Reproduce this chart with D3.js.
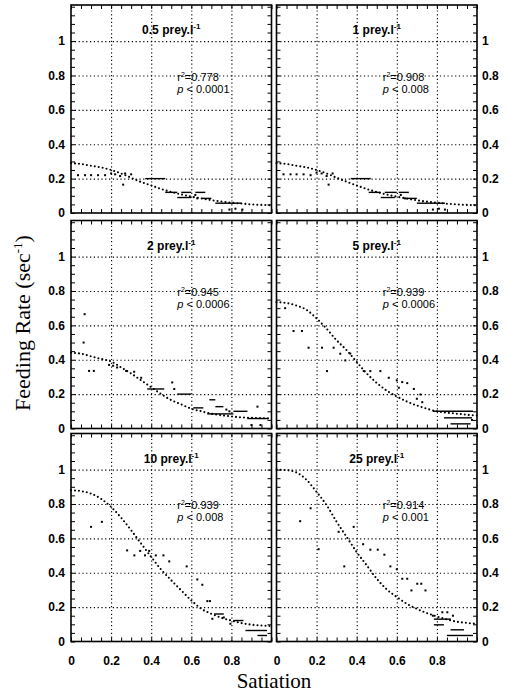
<!DOCTYPE html>
<html>
<head>
<meta charset="utf-8">
<script src="https://cdn.jsdelivr.net/npm/d3@7"></script>
<style>
  body { margin: 0; background: white; }
  svg { display: block; }
  .lbl text { font-family: "Liberation Sans", Arial, sans-serif; font-size: 12px; font-weight: bold; fill: black; }
  .grid line { stroke: black; stroke-width: 1.1; stroke-dasharray: 1.2,2.6; }
  .minor line { stroke: black; stroke-width: 1; }
</style>
</head>
<body>
<svg width="509" height="694"></svg>
<script>
// -------------------- Data --------------------

const densities = ["0.5", "1", "2", "5", "10", "25"];
const rSquared = ["0.778", "0.908", "0.945", "0.939", "0.939", "0.914"];
const pValues = ["0.0001", "0.008", "0.0006", "0.0006", "0.008", "0.001"];
const xTicks = [0, 0.2, 0.4, 0.6, 0.8];
const yTicks = [0, 0.2, 0.4, 0.6, 0.8, 1];

// fitted curve, read at every 0.05 of satiation
const fitX = [0, 0.05, 0.1, 0.15, 0.2, 0.25, 0.3, 0.35, 0.4, 0.45, 0.5, 0.55, 0.6, 0.65, 0.7, 0.75, 0.8, 0.85, 0.9, 0.95, 1];
const fit05 = [0.29, 0.285, 0.275, 0.265, 0.25, 0.23, 0.205, 0.18, 0.16, 0.14, 0.122, 0.108, 0.095, 0.085, 0.075, 0.067, 0.06, 0.055, 0.05, 0.047, 0.045];
const fit1 = [0.29, 0.285, 0.275, 0.265, 0.25, 0.23, 0.205, 0.182, 0.16, 0.14, 0.122, 0.107, 0.095, 0.084, 0.074, 0.066, 0.06, 0.054, 0.05, 0.047, 0.044];
const fit2 = [0.44, 0.435, 0.42, 0.405, 0.39, 0.355, 0.32, 0.28, 0.24, 0.2, 0.165, 0.14, 0.115, 0.1, 0.086, 0.077, 0.07, 0.065, 0.062, 0.06, 0.058];
const fit5 = [0.735, 0.73, 0.715, 0.69, 0.64, 0.58, 0.513, 0.455, 0.387, 0.32, 0.265, 0.22, 0.186, 0.157, 0.134, 0.115, 0.1, 0.092, 0.086, 0.08, 0.075];
const fit10 = [0.88, 0.875, 0.86, 0.83, 0.783, 0.72, 0.647, 0.569, 0.492, 0.418, 0.356, 0.297, 0.239, 0.19, 0.161, 0.138, 0.122, 0.107, 0.098, 0.093, 0.09];
const fit25 = [1.0, 0.997, 0.983, 0.94, 0.87, 0.793, 0.696, 0.608, 0.52, 0.443, 0.365, 0.303, 0.259, 0.219, 0.19, 0.165, 0.146, 0.128, 0.115, 0.108, 0.103];

// observed points [satiation, rate]
const obs05 = [[0.035,0.22],[0.07,0.22],[0.1,0.22],[0.135,0.22],[0.17,0.22],[0.2,0.23],[0.22,0.225],[0.245,0.215],[0.27,0.23],[0.3,0.225],[0.26,0.165],[0.62,0.105],[0.63,0.085],[0.79,0.02],[0.82,0.025],[0.855,0.02]];
const obs1 = [[0.035,0.225],[0.07,0.225],[0.1,0.225],[0.135,0.225],[0.17,0.22],[0.2,0.235],[0.225,0.23],[0.25,0.215],[0.28,0.23],[0.26,0.165],[0.62,0.105],[0.64,0.085],[0.78,0.02],[0.81,0.025],[0.84,0.02]];
const obs2 = [[0.068,0.665],[0.063,0.5],[0.09,0.335],[0.114,0.335],[0.19,0.37],[0.21,0.365],[0.23,0.355],[0.275,0.335],[0.315,0.33],[0.35,0.295],[0.505,0.268],[0.515,0.23],[0.775,0.11],[0.79,0.1],[0.93,0.127],[0.9,0.02],[0.945,0.02]];
const obs5 = [[0.043,0.7],[0.085,0.567],[0.127,0.567],[0.16,0.47],[0.227,0.47],[0.285,0.47],[0.318,0.435],[0.343,0.396],[0.368,0.436],[0.252,0.334],[0.435,0.334],[0.468,0.334],[0.518,0.334],[0.56,0.295],[0.6,0.28],[0.627,0.27],[0.652,0.264],[0.61,0.237],[0.685,0.23],[0.718,0.198],[0.7,0.173],[0.727,0.153],[0.975,0.05]];
const obs10 = [[0.1,0.667],[0.154,0.696],[0.28,0.53],[0.316,0.501],[0.345,0.527],[0.369,0.501],[0.39,0.527],[0.423,0.501],[0.461,0.501],[0.49,0.466],[0.577,0.437],[0.63,0.361],[0.655,0.33],[0.68,0.235],[0.693,0.235],[0.705,0.132],[0.795,0.103],[0.762,0.14]];
const obs25 = [[0.118,0.7],[0.17,0.775],[0.21,0.537],[0.31,0.638],[0.338,0.437],[0.385,0.667],[0.432,0.566],[0.468,0.534],[0.505,0.534],[0.538,0.505],[0.568,0.437],[0.6,0.42],[0.627,0.365],[0.652,0.365],[0.673,0.297],[0.702,0.336],[0.722,0.336],[0.743,0.297],[0.78,0.15],[0.827,0.17],[0.852,0.17],[0.88,0.15]];

// runs of overlapping observations [from, to, rate]
const run05 = [[0.37,0.47,0.2],[0.47,0.53,0.12],[0.55,0.6,0.12],[0.62,0.67,0.12],[0.53,0.6,0.09],[0.65,0.7,0.085],[0.72,0.85,0.057]];
const run1 = [[0.37,0.47,0.2],[0.46,0.52,0.12],[0.54,0.6,0.12],[0.61,0.66,0.12],[0.52,0.59,0.09],[0.64,0.7,0.085],[0.7,0.84,0.057]];
const run2 = [[0.38,0.465,0.23],[0.53,0.6,0.2],[0.61,0.66,0.12],[0.69,0.72,0.167],[0.72,0.76,0.127],[0.68,0.81,0.085],[0.81,0.88,0.1],[0.88,0.98,0.058]];
const run5 = [[0.78,0.98,0.1],[0.835,0.975,0.062],[0.868,0.968,0.027]];
const run10 = [[0.713,0.762,0.16],[0.81,0.86,0.122],[0.87,0.978,0.064],[0.93,0.978,0.035]];
const run25 = [[0.785,0.87,0.13],[0.785,0.835,0.097],[0.868,0.935,0.068],[0.85,0.98,0.035]];

const fits = [fit05, fit1, fit2, fit5, fit10, fit25];
const obs = [obs05, obs1, obs2, obs5, obs10, obs25];
const runs = [run05, run1, run2, run5, run10, run25];

// -------------------- Layout --------------------

const colX = [71, 276.5];
const rowY = [5, 220.5, 433.5];
const pw = 200.5;
const ph = 208;

const svg = d3.select("svg");

const x = d3.scaleLinear().domain([0, 1]).range([0, pw]);
const y = d3.scaleLinear().domain([0, 1.21]).range([ph, 0]);

const line = d3.line()
  .x((d, i) => x(fitX[i]))
  .y(d => y(d))
  .curve(d3.curveMonotoneX);

const minorX = d3.range(0, 1.001, 0.05);
const minorY = d3.range(0, 1.21, 0.05);

densities.forEach((dens, k) => {
  const col = k % 2;
  const row = Math.floor(k / 2);
  const g = svg.append("g")
    .attr("transform", `translate(${colX[col]},${rowY[row]})`);

  // dotted grid
  g.append("g").attr("class", "grid")
    .call(d3.axisLeft(y).tickValues([0.2, 0.4, 0.6, 0.8, 1]).tickSize(-pw).tickFormat(""))
    .call(a => a.select(".domain").remove());
  g.append("g").attr("class", "grid")
    .attr("transform", `translate(0,${ph})`)
    .call(d3.axisBottom(x).tickValues([0.2, 0.4, 0.6, 0.8]).tickSize(-ph).tickFormat(""))
    .call(a => a.select(".domain").remove());

  // inward ticks on all four sides
  [
    [d3.axisBottom(x).tickValues(minorX), `translate(0,${ph})`],
    [d3.axisTop(x).tickValues(minorX), "translate(0,0)"],
    [d3.axisLeft(y).tickValues(minorY), "translate(0,0)"],
    [d3.axisRight(y).tickValues(minorY), `translate(${pw},0)`]
  ].forEach(([ax, tr]) => {
    g.append("g").attr("class", "minor")
      .attr("transform", tr)
      .call(ax.tickSize(-4).tickFormat(""))
      .call(a => a.select(".domain").remove());
  });

  // frame
  g.append("rect")
    .attr("width", pw)
    .attr("height", ph)
    .attr("fill", "none")
    .attr("stroke", "black")
    .attr("stroke-width", 1.6);

  // fitted curve (dotted)
  g.append("path")
    .datum(fits[k])
    .attr("fill", "none")
    .attr("stroke", "black")
    .attr("stroke-width", 2.1)
    .attr("stroke-linecap", "round")
    .attr("stroke-dasharray", "0,4")
    .attr("d", line);

  // observations
  g.selectAll(".obs")
    .data(obs[k])
    .enter().append("rect")
    .attr("class", "obs")
    .attr("x", d => x(d[0]) - 1)
    .attr("y", d => y(d[1]) - 1)
    .attr("width", 2)
    .attr("height", 2)
    .attr("fill", "black");

  g.selectAll(".run")
    .data(runs[k])
    .enter().append("line")
    .attr("class", "run")
    .attr("x1", d => x(d[0]))
    .attr("x2", d => x(d[1]))
    .attr("y1", d => y(d[2]))
    .attr("y2", d => y(d[2]))
    .attr("stroke", "black")
    .attr("stroke-width", 1.4);

  // panel title
  const t = g.append("text")
    .attr("x", x(0.5))
    .attr("y", 29)
    .attr("text-anchor", "middle")
    .style("font-family", "'Liberation Sans', Arial, sans-serif")
    .style("font-size", "12px")
    .style("font-weight", "bold")
    .text(`${dens} prey.l`);
  t.append("tspan").attr("dy", -5).style("font-size", "8px").text("-1");

  // statistics
  const st = g.append("text")
    .attr("x", x(0.53))
    .attr("y", y(0.77))
    .style("font-family", "'Liberation Sans', Arial, sans-serif")
    .style("font-size", "11px");
  st.append("tspan").text("r");
  st.append("tspan").attr("dy", -4).style("font-size", "7px").text("2");
  st.append("tspan").attr("dy", 4).text(`=${rSquared[k]}`);

  const sp = g.append("text")
    .attr("x", x(0.53))
    .attr("y", y(0.7))
    .style("font-family", "'Liberation Sans', Arial, sans-serif")
    .style("font-size", "11px");
  sp.append("tspan").style("font-style", "italic").text("p");
  sp.append("tspan").text(` < ${pValues[k]}`);

  // y labels outside
  const yAx = col === 0
    ? d3.axisLeft(y).tickValues(yTicks).tickSize(0).tickPadding(6)
    : d3.axisRight(y).tickValues(yTicks).tickSize(0).tickPadding(5);
  g.append("g").attr("class", "lbl")
    .attr("transform", col === 0 ? "translate(0,0)" : `translate(${pw},0)`)
    .call(yAx.tickFormat(d => String(d)))
    .call(a => a.select(".domain").remove());

  // x labels on bottom row
  if (row === 2) {
    g.append("g").attr("class", "lbl")
      .attr("transform", `translate(0,${ph})`)
      .call(d3.axisBottom(x).tickValues(xTicks).tickSize(0).tickPadding(15).tickFormat(d => String(d)))
      .call(a => a.select(".domain").remove());
  }
});

// -------------------- Axis titles --------------------

svg.append("text")
  .attr("x", 274)
  .attr("y", 688)
  .attr("text-anchor", "middle")
  .style("font-family", "'Liberation Serif', 'Times New Roman', serif")
  .style("font-size", "21px")
  .text("Satiation");

const yt = svg.append("text")
  .attr("transform", "translate(30,323) rotate(-90)")
  .attr("text-anchor", "middle")
  .style("font-family", "'Liberation Serif', 'Times New Roman', serif")
  .style("font-size", "22px")
  .text("Feeding Rate (sec");
yt.append("tspan").attr("dy", -8).style("font-size", "13px").text("-1");
yt.append("tspan").attr("dy", 8).text(")");
</script>
</body>
</html>
